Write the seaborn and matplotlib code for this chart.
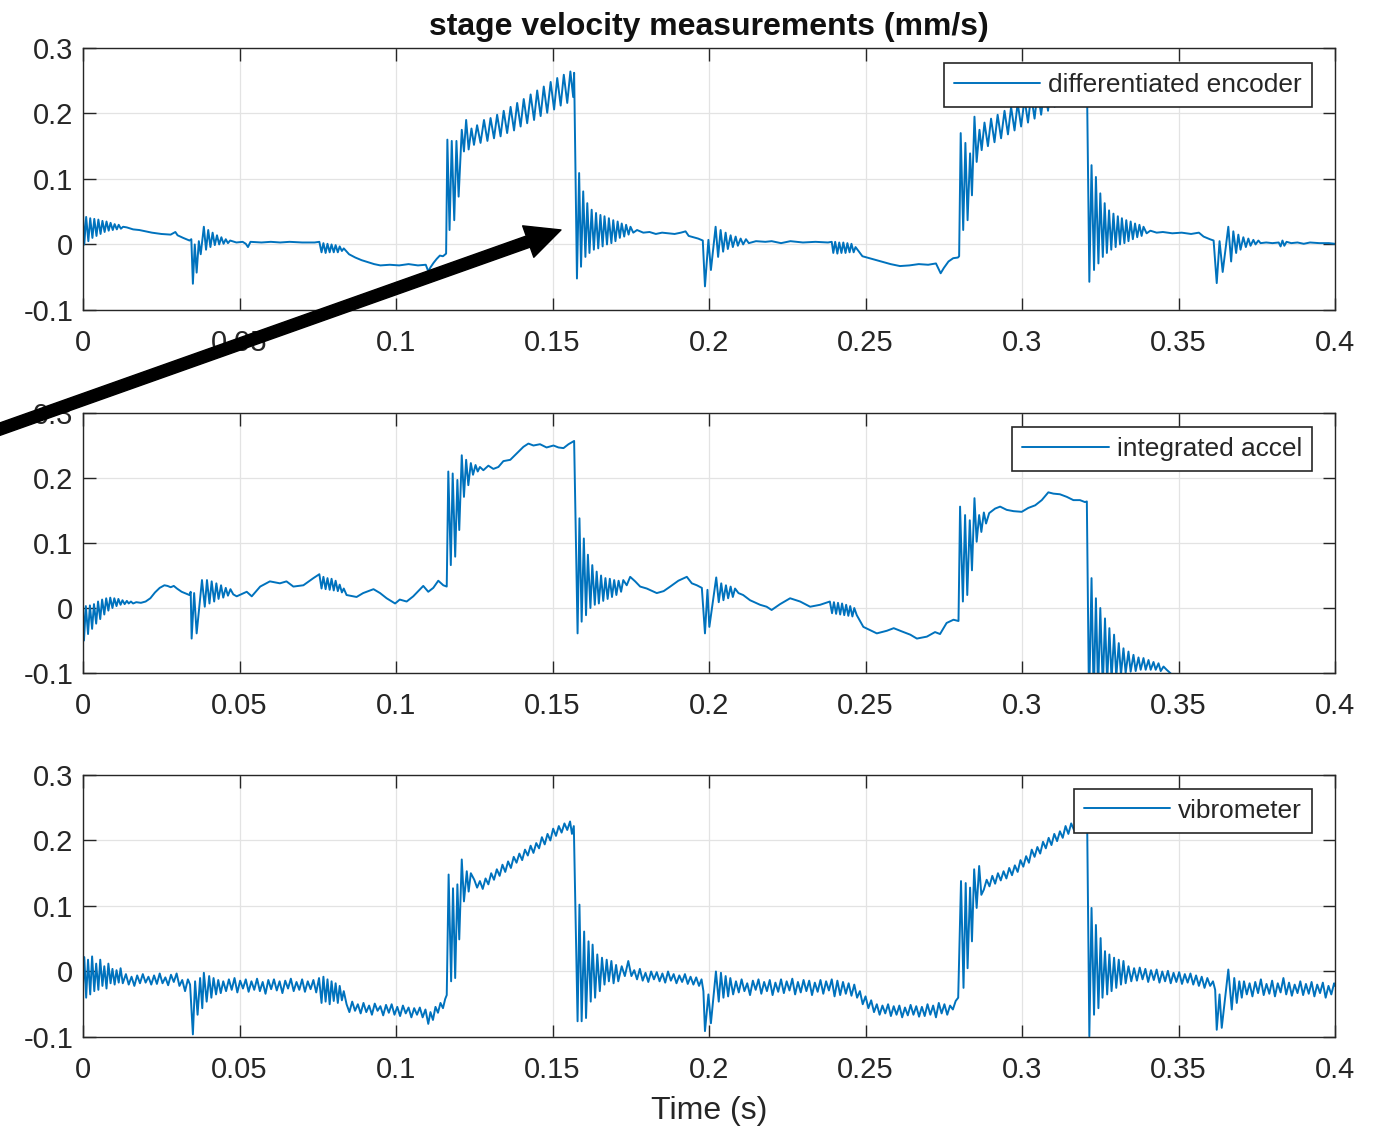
import matplotlib
matplotlib.use("Agg")
import matplotlib.pyplot as plt
import numpy as np
import seaborn as sns
from matplotlib.patches import FancyArrowPatch
from matplotlib.ticker import FormatStrFormatter

# (time s, velocity mm/s), one list per sensor
encoder_pts = [
    (0.0000, 0.045), (0.0004, 0.000), (0.0010, 0.042), (0.0017, 0.005), (0.0023, 0.040),
    (0.0030, 0.010), (0.0036, 0.039), (0.0043, 0.013), (0.0049, 0.038), (0.0056, 0.016),
    (0.0062, 0.036), (0.0069, 0.019), (0.0075, 0.035), (0.0082, 0.021), (0.0088, 0.033),
    (0.0095, 0.022), (0.0101, 0.031), (0.0108, 0.023), (0.0114, 0.030), (0.0121, 0.024),
    (0.0128, 0.027), (0.0140, 0.026), (0.0160, 0.023), (0.0180, 0.022), (0.0200, 0.020),
    (0.0220, 0.018), (0.0250, 0.016), (0.0280, 0.015), (0.0295, 0.019), (0.0302, 0.014),
    (0.0320, 0.010), (0.0340, 0.006), (0.0346, 0.008),
    (0.0351, -0.060), (0.0357, 0.000), (0.0363, -0.043), (0.0370, 0.005), (0.0376, -0.015),
    (0.0386, 0.027), (0.0393, -0.008), (0.0400, 0.022), (0.0407, -0.004), (0.0414, 0.018),
    (0.0421, -0.001), (0.0428, 0.014), (0.0435, 0.000), (0.0442, 0.011), (0.0449, 0.001),
    (0.0456, 0.008), (0.0463, 0.002), (0.0470, 0.006),
    (0.0490, 0.003), (0.0510, 0.004), (0.0520, 0.001), (0.0527, -0.004), (0.0535, 0.004),
    (0.0570, 0.003), (0.0600, 0.004), (0.0630, 0.003), (0.0660, 0.004), (0.0700, 0.003),
    (0.0740, 0.003), (0.0755, 0.004),
    (0.0762, -0.012), (0.0768, 0.002), (0.0775, -0.013), (0.0781, 0.001), (0.0788, -0.012),
    (0.0794, 0.000), (0.0801, -0.012), (0.0807, -0.001), (0.0814, -0.012), (0.0820, -0.003),
    (0.0827, -0.010), (0.0833, -0.006),
    (0.0850, -0.015), (0.0870, -0.020), (0.0890, -0.024), (0.0910, -0.027), (0.0930, -0.030),
    (0.0950, -0.032), (0.0980, -0.031), (0.1010, -0.032), (0.1040, -0.030), (0.1070, -0.032),
    (0.1095, -0.031), (0.1103, -0.041), (0.1110, -0.035), (0.1120, -0.028), (0.1130, -0.022),
    (0.1140, -0.017), (0.1150, -0.018), (0.1160, -0.014),
    (0.1164, 0.160), (0.1171, 0.022), (0.1178, 0.158), (0.1186, 0.037), (0.1193, 0.158),
    (0.1200, 0.073), (0.1210, 0.175), (0.1217, 0.142), (0.1224, 0.190), (0.1232, 0.145),
    (0.1241, 0.177), (0.1249, 0.152),
    (0.1259, 0.182), (0.1270, 0.155), (0.1281, 0.190), (0.1292, 0.158), (0.1302, 0.193),
    (0.1313, 0.162), (0.1323, 0.198), (0.1334, 0.165), (0.1344, 0.204), (0.1355, 0.170),
    (0.1366, 0.210), (0.1377, 0.174), (0.1387, 0.216), (0.1398, 0.180), (0.1408, 0.222),
    (0.1419, 0.185), (0.1430, 0.229), (0.1441, 0.190), (0.1451, 0.235), (0.1462, 0.196),
    (0.1472, 0.241), (0.1483, 0.201), (0.1494, 0.248), (0.1505, 0.206), (0.1515, 0.254),
    (0.1526, 0.212), (0.1536, 0.259), (0.1547, 0.216), (0.1557, 0.264), (0.1566, 0.225),
    (0.1569, 0.262),
    (0.1578, -0.052), (0.1585, 0.109), (0.1591, -0.034), (0.1598, 0.081), (0.1605, -0.019),
    (0.1611, 0.063), (0.1618, -0.013), (0.1625, 0.053), (0.1632, -0.008), (0.1639, 0.048),
    (0.1646, -0.006), (0.1653, 0.045), (0.1660, -0.003), (0.1666, 0.043), (0.1674, 0.000),
    (0.1680, 0.040), (0.1688, 0.002), (0.1694, 0.037), (0.1701, 0.005), (0.1708, 0.035),
    (0.1715, 0.010), (0.1721, 0.032), (0.1729, 0.012), (0.1735, 0.030), (0.1743, 0.015),
    (0.1749, 0.027), (0.1758, 0.018), (0.1770, 0.022), (0.1790, 0.018), (0.1810, 0.019),
    (0.1830, 0.016), (0.1850, 0.018), (0.1870, 0.017), (0.1890, 0.016), (0.1910, 0.018),
    (0.1925, 0.020), (0.1935, 0.013), (0.1950, 0.011), (0.1965, 0.009), (0.1980, 0.006),
    (0.1987, -0.064), (0.1998, 0.007), (0.2006, -0.039), (0.2021, 0.027), (0.2029, -0.019),
    (0.2037, 0.022), (0.2045, -0.011), (0.2053, 0.018), (0.2060, -0.007), (0.2069, 0.014),
    (0.2076, -0.004), (0.2085, 0.012), (0.2092, -0.002), (0.2101, 0.009), (0.2109, 0.000),
    (0.2118, 0.008), (0.2127, 0.002), (0.2150, 0.005), (0.2180, 0.004), (0.2200, 0.005),
    (0.2230, 0.002), (0.2260, 0.005), (0.2300, 0.003), (0.2340, 0.004), (0.2380, 0.003),
    (0.2392, 0.004),
    (0.2397, -0.013), (0.2403, 0.004), (0.2410, -0.014), (0.2416, 0.003), (0.2423, -0.013),
    (0.2429, 0.003), (0.2436, -0.013), (0.2442, 0.002), (0.2449, -0.012), (0.2455, 0.001),
    (0.2462, -0.012), (0.2468, -0.004),
    (0.2490, -0.018), (0.2520, -0.022), (0.2550, -0.026), (0.2580, -0.030), (0.2610, -0.033),
    (0.2640, -0.032), (0.2670, -0.030), (0.2700, -0.031), (0.2725, -0.029), (0.2740, -0.044),
    (0.2750, -0.036), (0.2765, -0.026), (0.2780, -0.021), (0.2795, -0.020), (0.2799, -0.018),
    (0.2804, 0.170), (0.2812, 0.022), (0.2819, 0.155), (0.2826, 0.037), (0.2834, 0.139),
    (0.2840, 0.075), (0.2848, 0.195), (0.2855, 0.126), (0.2864, 0.175), (0.2871, 0.144),
    (0.2880, 0.186), (0.2891, 0.150), (0.2901, 0.192), (0.2912, 0.156), (0.2922, 0.198),
    (0.2933, 0.162), (0.2944, 0.204), (0.2955, 0.168), (0.2965, 0.210), (0.2976, 0.174),
    (0.2986, 0.216), (0.2997, 0.180), (0.3008, 0.222), (0.3019, 0.186), (0.3029, 0.228),
    (0.3040, 0.192), (0.3050, 0.234), (0.3061, 0.198), (0.3072, 0.240), (0.3083, 0.204),
    (0.3093, 0.246), (0.3104, 0.210), (0.3114, 0.251), (0.3125, 0.215), (0.3136, 0.256),
    (0.3147, 0.219), (0.3157, 0.260), (0.3168, 0.222), (0.3179, 0.263), (0.3190, 0.225),
    (0.3200, 0.265), (0.3207, 0.262),
    (0.3215, -0.057), (0.3222, 0.121), (0.3230, -0.039), (0.3236, 0.103), (0.3244, -0.029),
    (0.3250, 0.078), (0.3258, -0.019), (0.3264, 0.063), (0.3271, -0.013), (0.3278, 0.052),
    (0.3285, -0.008), (0.3292, 0.047), (0.3299, -0.004), (0.3306, 0.043), (0.3313, 0.000),
    (0.3319, 0.040), (0.3327, 0.002), (0.3333, 0.037), (0.3340, 0.005), (0.3347, 0.035),
    (0.3354, 0.008), (0.3361, 0.032), (0.3368, 0.011), (0.3375, 0.030), (0.3382, 0.013),
    (0.3388, 0.027), (0.3398, 0.017), (0.3410, 0.021), (0.3430, 0.018), (0.3450, 0.019),
    (0.3480, 0.017), (0.3510, 0.018), (0.3540, 0.016), (0.3565, 0.018), (0.3580, 0.012),
    (0.3600, 0.008), (0.3612, 0.006),
    (0.3622, -0.059), (0.3631, 0.005), (0.3641, -0.042), (0.3659, 0.027), (0.3668, -0.026),
    (0.3675, 0.020), (0.3684, -0.013), (0.3691, 0.015), (0.3698, -0.008), (0.3707, 0.011),
    (0.3715, -0.004), (0.3723, 0.009), (0.3730, -0.002), (0.3739, 0.007), (0.3746, 0.000),
    (0.3755, 0.006), (0.3762, 0.002), (0.3780, 0.003), (0.3800, 0.002), (0.3820, 0.003),
    (0.3826, -0.003), (0.3832, 0.006), (0.3838, -0.002), (0.3845, 0.004), (0.3860, 0.002),
    (0.3880, 0.003), (0.3900, 0.001), (0.3920, 0.003), (0.3950, 0.002), (0.3980, 0.002),
    (0.4000, 0.001),
]

accel_pts = [
    (0.0000, 0.002), (0.0003, -0.050), (0.0009, 0.003), (0.0016, -0.040), (0.0022, 0.004),
    (0.0029, -0.032), (0.0035, 0.006), (0.0042, -0.024), (0.0048, 0.010), (0.0055, -0.017),
    (0.0061, 0.013), (0.0068, -0.010), (0.0074, 0.015), (0.0081, -0.004), (0.0087, 0.016),
    (0.0094, 0.000), (0.0100, 0.015), (0.0107, 0.003), (0.0113, 0.014), (0.0120, 0.005),
    (0.0126, 0.012), (0.0133, 0.006), (0.0140, 0.011), (0.0146, 0.007), (0.0153, 0.010),
    (0.0160, 0.007), (0.0170, 0.009), (0.0185, 0.008), (0.0200, 0.010),
    (0.0215, 0.015), (0.0230, 0.024), (0.0245, 0.031), (0.0260, 0.035), (0.0270, 0.034),
    (0.0280, 0.032), (0.0290, 0.034), (0.0300, 0.030), (0.0315, 0.025), (0.0330, 0.022),
    (0.0340, 0.020), (0.0344, 0.025),
    (0.0347, -0.047), (0.0355, 0.023), (0.0363, -0.039), (0.0380, 0.043), (0.0389, 0.002),
    (0.0396, 0.043), (0.0404, 0.007), (0.0411, 0.041), (0.0419, 0.010), (0.0426, 0.038),
    (0.0433, 0.014), (0.0441, 0.035), (0.0448, 0.016), (0.0456, 0.031), (0.0463, 0.019),
    (0.0471, 0.029), (0.0480, 0.021), (0.0491, 0.018), (0.0523, 0.025), (0.0539, 0.018),
    (0.0566, 0.033), (0.0597, 0.041), (0.0629, 0.038), (0.0650, 0.041), (0.0672, 0.033),
    (0.0704, 0.035), (0.0736, 0.046), (0.0755, 0.052),
    (0.0762, 0.030), (0.0768, 0.048), (0.0775, 0.029), (0.0781, 0.046), (0.0788, 0.028),
    (0.0794, 0.045), (0.0801, 0.027), (0.0807, 0.042), (0.0814, 0.026), (0.0820, 0.036),
    (0.0827, 0.024), (0.0833, 0.030),
    (0.0842, 0.020), (0.0874, 0.017), (0.0895, 0.023), (0.0928, 0.029), (0.0949, 0.023),
    (0.0970, 0.015), (0.0997, 0.007), (0.1012, 0.013), (0.1034, 0.010), (0.1055, 0.018),
    (0.1087, 0.034), (0.1103, 0.025), (0.1119, 0.031), (0.1135, 0.042), (0.1151, 0.035),
    (0.1162, 0.033),
    (0.1167, 0.210), (0.1175, 0.066), (0.1181, 0.207), (0.1189, 0.079), (0.1196, 0.197),
    (0.1202, 0.120), (0.1210, 0.235), (0.1217, 0.171), (0.1224, 0.228), (0.1231, 0.189),
    (0.1239, 0.223), (0.1246, 0.205), (0.1254, 0.220), (0.1261, 0.210), (0.1268, 0.217),
    (0.1279, 0.212), (0.1295, 0.219), (0.1311, 0.214), (0.1327, 0.217), (0.1343, 0.226),
    (0.1365, 0.228), (0.1386, 0.238), (0.1407, 0.248), (0.1423, 0.253), (0.1439, 0.250),
    (0.1460, 0.252), (0.1481, 0.247), (0.1503, 0.250), (0.1519, 0.247), (0.1535, 0.246),
    (0.1551, 0.252), (0.1569, 0.257),
    (0.1580, -0.039), (0.1586, 0.138), (0.1593, -0.021), (0.1600, 0.107), (0.1607, -0.011),
    (0.1613, 0.082), (0.1621, 0.000), (0.1627, 0.066), (0.1635, 0.005), (0.1641, 0.056),
    (0.1648, 0.007), (0.1655, 0.050), (0.1662, 0.011), (0.1669, 0.046), (0.1676, 0.014),
    (0.1683, 0.045), (0.1690, 0.017), (0.1697, 0.043), (0.1704, 0.020), (0.1711, 0.042),
    (0.1719, 0.025), (0.1726, 0.043), (0.1737, 0.035), (0.1748, 0.048), (0.1764, 0.041),
    (0.1780, 0.033), (0.1801, 0.030), (0.1833, 0.023), (0.1855, 0.026), (0.1876, 0.033),
    (0.1902, 0.042), (0.1929, 0.048), (0.1945, 0.038), (0.1961, 0.035), (0.1977, 0.031),
    (0.1987, -0.039), (0.1995, 0.028), (0.2001, -0.029), (0.2023, 0.047), (0.2031, 0.009),
    (0.2039, 0.038), (0.2046, 0.012), (0.2054, 0.035), (0.2061, 0.015), (0.2069, 0.033),
    (0.2076, 0.017), (0.2083, 0.030), (0.2094, 0.023), (0.2109, 0.020), (0.2131, 0.012),
    (0.2163, 0.005), (0.2184, 0.002), (0.2200, -0.003), (0.2227, 0.006), (0.2259, 0.015),
    (0.2291, 0.010), (0.2323, 0.002), (0.2355, 0.005), (0.2386, 0.010),
    (0.2393, -0.008), (0.2399, 0.009), (0.2406, -0.009), (0.2412, 0.008), (0.2419, -0.010),
    (0.2425, 0.007), (0.2432, -0.011), (0.2438, 0.005), (0.2445, -0.012), (0.2451, 0.003),
    (0.2458, -0.013), (0.2464, 0.000), (0.2472, -0.011),
    (0.2493, -0.029), (0.2536, -0.039), (0.2568, -0.035), (0.2590, -0.031), (0.2616, -0.036),
    (0.2643, -0.041), (0.2664, -0.047), (0.2696, -0.044), (0.2722, -0.037), (0.2738, -0.040),
    (0.2759, -0.023), (0.2781, -0.018), (0.2797, -0.020),
    (0.2802, 0.156), (0.2811, 0.010), (0.2818, 0.143), (0.2825, 0.020), (0.2833, 0.135),
    (0.2840, 0.058), (0.2848, 0.169), (0.2855, 0.102), (0.2863, 0.143), (0.2870, 0.117),
    (0.2878, 0.147), (0.2885, 0.130), (0.2895, 0.146), (0.2914, 0.153), (0.2930, 0.156),
    (0.2951, 0.151), (0.2973, 0.149), (0.2999, 0.148), (0.3020, 0.154), (0.3042, 0.158),
    (0.3063, 0.166), (0.3084, 0.178), (0.3100, 0.176), (0.3121, 0.175), (0.3143, 0.171),
    (0.3164, 0.166), (0.3185, 0.166), (0.3201, 0.163), (0.3207, 0.164),
    (0.3214, -0.150), (0.3222, 0.046), (0.3229, -0.140), (0.3236, 0.015), (0.3243, -0.130),
    (0.3250, 0.000), (0.3258, -0.122), (0.3265, -0.016), (0.3272, -0.115), (0.3279, -0.031),
    (0.3286, -0.110), (0.3294, -0.041), (0.3301, -0.106), (0.3309, -0.054), (0.3316, -0.103),
    (0.3324, -0.062), (0.3331, -0.100), (0.3340, -0.067), (0.3347, -0.098), (0.3356, -0.072),
    (0.3363, -0.097), (0.3372, -0.076), (0.3379, -0.095), (0.3388, -0.077), (0.3395, -0.095),
    (0.3404, -0.080), (0.3411, -0.095), (0.3420, -0.083), (0.3427, -0.095), (0.3436, -0.085),
    (0.3443, -0.097), (0.3452, -0.090), (0.3462, -0.095), (0.3478, -0.102), (0.3550, -0.118),
    (0.3700, -0.140), (0.4000, -0.170),
]

vibro_pts = [
    (0.0000, -0.020), (0.0004, 0.022), (0.0010, -0.040), (0.0016, 0.018), (0.0023, -0.035),
    (0.0029, 0.023), (0.0036, -0.030), (0.0042, 0.012), (0.0049, -0.028), (0.0055, 0.018),
    (0.0062, -0.022), (0.0068, 0.008), (0.0075, -0.026), (0.0081, 0.012), (0.0088, -0.018),
    (0.0094, 0.004), (0.0101, -0.020), (0.0107, 0.002), (0.0114, -0.017), (0.0120, 0.005),
    (0.0127, -0.018),
    (0.0137, -0.004), (0.0146, -0.020), (0.0155, -0.008), (0.0164, -0.022), (0.0173, -0.006),
    (0.0182, -0.018), (0.0191, -0.004), (0.0200, -0.017), (0.0209, -0.008), (0.0218, -0.020),
    (0.0227, -0.006), (0.0236, -0.019), (0.0245, -0.003), (0.0254, -0.018), (0.0263, -0.009),
    (0.0272, -0.021), (0.0281, -0.005), (0.0290, -0.016), (0.0299, -0.003), (0.0308, -0.022),
    (0.0317, -0.013), (0.0326, -0.030), (0.0335, -0.012), (0.0342, -0.020),
    (0.0351, -0.096), (0.0358, -0.015), (0.0366, -0.066), (0.0374, -0.010), (0.0381, -0.056),
    (0.0386, -0.002), (0.0395, -0.046), (0.0403, -0.007), (0.0410, -0.040), (0.0417, -0.010),
    (0.0425, -0.035), (0.0432, -0.013), (0.0440, -0.033), (0.0448, -0.015),
    (0.0457, -0.030), (0.0466, -0.012), (0.0475, -0.028), (0.0484, -0.010), (0.0493, -0.032),
    (0.0502, -0.014), (0.0511, -0.026), (0.0520, -0.012), (0.0529, -0.031), (0.0538, -0.015),
    (0.0547, -0.028), (0.0556, -0.011), (0.0565, -0.030), (0.0574, -0.016), (0.0583, -0.034),
    (0.0592, -0.013), (0.0601, -0.027), (0.0610, -0.012), (0.0619, -0.029), (0.0628, -0.015),
    (0.0637, -0.033), (0.0646, -0.014), (0.0655, -0.026), (0.0664, -0.011), (0.0673, -0.030),
    (0.0682, -0.016), (0.0691, -0.028), (0.0700, -0.012), (0.0709, -0.031), (0.0718, -0.015),
    (0.0727, -0.027), (0.0736, -0.013), (0.0745, -0.032), (0.0754, -0.010),
    (0.0762, -0.048), (0.0768, -0.008), (0.0775, -0.046), (0.0781, -0.012), (0.0788, -0.050),
    (0.0794, -0.015), (0.0801, -0.045), (0.0807, -0.018), (0.0814, -0.048), (0.0820, -0.022),
    (0.0827, -0.044), (0.0833, -0.030),
    (0.0842, -0.050), (0.0851, -0.062), (0.0860, -0.046), (0.0869, -0.060), (0.0878, -0.050),
    (0.0887, -0.064), (0.0896, -0.048), (0.0905, -0.062), (0.0914, -0.052), (0.0923, -0.066),
    (0.0932, -0.049), (0.0941, -0.060), (0.0950, -0.053), (0.0959, -0.067), (0.0968, -0.051),
    (0.0977, -0.063), (0.0986, -0.050), (0.0995, -0.066), (0.1004, -0.054), (0.1013, -0.068),
    (0.1022, -0.052), (0.1031, -0.064), (0.1040, -0.055), (0.1049, -0.070), (0.1058, -0.056),
    (0.1067, -0.066), (0.1076, -0.055), (0.1085, -0.070), (0.1094, -0.058), (0.1103, -0.080),
    (0.1110, -0.062), (0.1118, -0.074), (0.1126, -0.054), (0.1134, -0.063), (0.1142, -0.048),
    (0.1150, -0.056), (0.1157, -0.042), (0.1162, -0.036),
    (0.1168, 0.148), (0.1176, -0.015), (0.1182, 0.127), (0.1189, -0.010), (0.1196, 0.133),
    (0.1202, 0.049), (0.1210, 0.171), (0.1217, 0.107), (0.1226, 0.153), (0.1232, 0.122),
    (0.1239, 0.150),
    (0.1250, 0.140), (0.1259, 0.128), (0.1268, 0.138), (0.1277, 0.126), (0.1286, 0.142),
    (0.1295, 0.133), (0.1304, 0.150), (0.1313, 0.140), (0.1322, 0.156), (0.1331, 0.146),
    (0.1340, 0.163), (0.1349, 0.152), (0.1358, 0.168), (0.1367, 0.158), (0.1376, 0.175),
    (0.1385, 0.166), (0.1394, 0.180), (0.1403, 0.170), (0.1412, 0.186), (0.1421, 0.177),
    (0.1430, 0.192), (0.1439, 0.181), (0.1448, 0.196), (0.1457, 0.188), (0.1466, 0.205),
    (0.1475, 0.194), (0.1484, 0.210), (0.1493, 0.200), (0.1502, 0.218), (0.1511, 0.207),
    (0.1520, 0.222), (0.1529, 0.212), (0.1538, 0.226), (0.1547, 0.216), (0.1556, 0.229),
    (0.1562, 0.210), (0.1568, 0.222),
    (0.1580, -0.076), (0.1586, 0.102), (0.1593, -0.076), (0.1601, 0.061), (0.1607, -0.071),
    (0.1615, 0.046), (0.1622, -0.046), (0.1628, 0.041), (0.1636, -0.040), (0.1643, 0.026),
    (0.1651, -0.030), (0.1658, 0.021), (0.1666, -0.020), (0.1673, 0.018), (0.1680, -0.015),
    (0.1688, 0.016), (0.1695, -0.018), (0.1703, 0.010), (0.1710, -0.015), (0.1721, 0.008),
    (0.1731, -0.007), (0.1742, 0.016), (0.1752, -0.007),
    (0.1761, 0.002), (0.1770, -0.012), (0.1779, 0.004), (0.1788, -0.014), (0.1797, -0.002),
    (0.1806, -0.016), (0.1815, 0.000), (0.1824, -0.012), (0.1833, -0.001), (0.1842, -0.015),
    (0.1851, -0.003), (0.1860, -0.017), (0.1869, 0.000), (0.1878, -0.014), (0.1887, -0.004),
    (0.1896, -0.018), (0.1905, -0.006), (0.1914, -0.016), (0.1923, -0.004), (0.1932, -0.019),
    (0.1941, -0.008), (0.1950, -0.020), (0.1959, -0.009), (0.1968, -0.022), (0.1976, -0.012),
    (0.1982, -0.030),
    (0.1987, -0.091), (0.1998, -0.035), (0.2006, -0.079), (0.2022, 0.000), (0.2031, -0.046),
    (0.2038, -0.002), (0.2046, -0.040), (0.2053, -0.007), (0.2061, -0.038), (0.2068, -0.010),
    (0.2077, -0.035), (0.2086, -0.015), (0.2095, -0.032), (0.2104, -0.012), (0.2113, -0.030),
    (0.2122, -0.018), (0.2131, -0.036), (0.2140, -0.014), (0.2149, -0.028), (0.2158, -0.012),
    (0.2167, -0.034), (0.2176, -0.016), (0.2185, -0.030), (0.2194, -0.013), (0.2203, -0.036),
    (0.2212, -0.017), (0.2221, -0.031), (0.2230, -0.012), (0.2239, -0.033), (0.2248, -0.015),
    (0.2257, -0.029), (0.2266, -0.011), (0.2275, -0.035), (0.2284, -0.016), (0.2293, -0.032),
    (0.2302, -0.013), (0.2311, -0.030), (0.2320, -0.014), (0.2329, -0.036), (0.2338, -0.017),
    (0.2347, -0.031), (0.2356, -0.013), (0.2365, -0.034), (0.2374, -0.015), (0.2383, -0.029),
    (0.2392, -0.012), (0.2401, -0.038), (0.2410, -0.014), (0.2419, -0.036), (0.2428, -0.016),
    (0.2437, -0.034), (0.2446, -0.018), (0.2455, -0.037), (0.2464, -0.020),
    (0.2473, -0.040), (0.2482, -0.030), (0.2491, -0.050), (0.2500, -0.038), (0.2509, -0.056),
    (0.2518, -0.044), (0.2527, -0.062), (0.2536, -0.050), (0.2545, -0.066), (0.2554, -0.052),
    (0.2563, -0.064), (0.2572, -0.050), (0.2581, -0.068), (0.2590, -0.053), (0.2599, -0.066),
    (0.2608, -0.052), (0.2617, -0.070), (0.2626, -0.055), (0.2635, -0.067), (0.2644, -0.051),
    (0.2653, -0.066), (0.2662, -0.053), (0.2671, -0.069), (0.2680, -0.054), (0.2689, -0.068),
    (0.2698, -0.050), (0.2707, -0.066), (0.2716, -0.052), (0.2725, -0.070), (0.2734, -0.048),
    (0.2743, -0.064), (0.2752, -0.050), (0.2761, -0.066), (0.2770, -0.052), (0.2779, -0.058),
    (0.2788, -0.045), (0.2796, -0.040),
    (0.2805, 0.138), (0.2813, -0.025), (0.2820, 0.135), (0.2826, 0.005), (0.2834, 0.128),
    (0.2840, 0.046), (0.2847, 0.156), (0.2855, 0.097), (0.2863, 0.161), (0.2870, 0.117),
    (0.2878, 0.125), (0.2887, 0.140), (0.2896, 0.130), (0.2905, 0.146), (0.2914, 0.134),
    (0.2923, 0.150), (0.2932, 0.139), (0.2941, 0.153), (0.2950, 0.142), (0.2959, 0.158),
    (0.2968, 0.147), (0.2977, 0.162), (0.2986, 0.152), (0.2995, 0.170), (0.3004, 0.160),
    (0.3013, 0.176), (0.3022, 0.166), (0.3031, 0.186), (0.3040, 0.175), (0.3049, 0.190),
    (0.3058, 0.180), (0.3067, 0.198), (0.3076, 0.188), (0.3085, 0.204), (0.3094, 0.193),
    (0.3103, 0.210), (0.3112, 0.199), (0.3121, 0.214), (0.3130, 0.204), (0.3139, 0.222),
    (0.3148, 0.210), (0.3157, 0.226), (0.3166, 0.216), (0.3175, 0.230), (0.3184, 0.220),
    (0.3193, 0.232), (0.3202, 0.222), (0.3208, 0.228),
    (0.3215, -0.099), (0.3222, 0.097), (0.3230, -0.066), (0.3236, 0.071), (0.3244, -0.056),
    (0.3251, 0.051), (0.3257, -0.040), (0.3265, 0.031), (0.3272, -0.035), (0.3279, 0.026),
    (0.3286, -0.030), (0.3294, 0.021), (0.3301, -0.025), (0.3309, 0.018), (0.3316, -0.020),
    (0.3324, 0.016), (0.3331, -0.018),
    (0.3340, 0.008), (0.3349, -0.015), (0.3358, 0.005), (0.3367, -0.014), (0.3376, 0.006),
    (0.3385, -0.012), (0.3394, 0.004), (0.3403, -0.016), (0.3412, 0.002), (0.3421, -0.013),
    (0.3430, 0.003), (0.3439, -0.017), (0.3448, 0.000), (0.3457, -0.015), (0.3466, 0.001),
    (0.3475, -0.018), (0.3484, -0.002), (0.3493, -0.016), (0.3502, -0.001), (0.3511, -0.019),
    (0.3520, -0.004), (0.3529, -0.017), (0.3538, -0.003), (0.3547, -0.020), (0.3556, -0.006),
    (0.3565, -0.022), (0.3574, -0.008), (0.3583, -0.025), (0.3592, -0.010), (0.3601, -0.022),
    (0.3610, -0.015), (0.3617, -0.028),
    (0.3622, -0.089), (0.3631, -0.035), (0.3638, -0.086), (0.3659, 0.003), (0.3670, -0.058),
    (0.3678, -0.010), (0.3686, -0.048), (0.3694, -0.015), (0.3702, -0.040), (0.3709, -0.015),
    (0.3718, -0.035), (0.3727, -0.018), (0.3736, -0.038), (0.3745, -0.016), (0.3754, -0.033),
    (0.3763, -0.012), (0.3772, -0.036), (0.3781, -0.019), (0.3790, -0.034), (0.3799, -0.014),
    (0.3808, -0.038), (0.3817, -0.018), (0.3826, -0.032), (0.3835, -0.010), (0.3844, -0.035),
    (0.3853, -0.017), (0.3862, -0.037), (0.3871, -0.020), (0.3880, -0.033), (0.3889, -0.015),
    (0.3898, -0.036), (0.3907, -0.019), (0.3916, -0.034), (0.3925, -0.016), (0.3934, -0.038),
    (0.3943, -0.020), (0.3952, -0.033), (0.3961, -0.017), (0.3970, -0.040), (0.3979, -0.022),
    (0.3988, -0.035), (0.3997, -0.018), (0.4000, -0.022),
]

series_labels = ["differentiated encoder", "integrated accel", "vibrometer"]
x_ticks = [0, 0.05, 0.1, 0.15, 0.2, 0.25, 0.3, 0.35, 0.4]
y_ticks = [-0.1, 0, 0.1, 0.2, 0.3]

LINE_BLUE = "#0072BD"
AX_GRAY = "#262626"

sns.set_theme(style="ticks")
plt.rcParams["font.family"] = ["Liberation Sans", "DejaVu Sans"]

fig = plt.figure(figsize=(13.93, 11.3), dpi=100)

# axes boxes in figure fractions, legend upper-right anchors in axes fractions
boxes = [
    [0.0596, 0.7257, 0.8988, 0.2319],
    [0.0596, 0.4044, 0.8988, 0.2301],
    [0.0596, 0.0823, 0.8988, 0.2319],
]
legend_anchor = [(0.9814, 0.9416), (0.9814, 0.9473), (0.9814, 0.9477)]

axes = []
for pts, label, box, anchor in zip(
    [encoder_pts, accel_pts, vibro_pts], series_labels, boxes, legend_anchor
):
    ax = fig.add_axes(box)
    arr = np.array(pts)
    sns.lineplot(
        x=arr[:, 0], y=arr[:, 1], ax=ax, estimator=None, sort=False,
        color=LINE_BLUE, linewidth=1.4, label=label,
    )
    ax.set_xlim(0, 0.4)
    ax.set_ylim(-0.1, 0.3)
    ax.set_xticks(x_ticks)
    ax.set_yticks(y_ticks)
    ax.xaxis.set_major_formatter(FormatStrFormatter("%g"))
    ax.yaxis.set_major_formatter(FormatStrFormatter("%g"))
    ax.grid(True, color="#e3e3e3", linewidth=0.9)
    ax.set_axisbelow(True)
    for side in ["top", "right", "bottom", "left"]:
        ax.spines[side].set_visible(True)
        ax.spines[side].set_color(AX_GRAY)
        ax.spines[side].set_linewidth(1.0)
    ax.tick_params(axis="both", direction="in", length=9, width=1.0, color=AX_GRAY,
                   labelsize=21, labelcolor=AX_GRAY, top=True, right=True)
    ax.tick_params(axis="x", pad=13.5)
    ax.tick_params(axis="y", pad=7)
    ax.set_xlabel("")
    ax.set_ylabel("")
    leg = ax.legend(
        loc="upper right", bbox_to_anchor=anchor, borderaxespad=0, fontsize=18.9,
        handlelength=3.3, handletextpad=0.3, borderpad=0.38, fancybox=False,
        edgecolor=AX_GRAY, framealpha=1,
    )
    leg.get_frame().set_linewidth(1.2)
    axes.append(ax)

axes[0].set_title("stage velocity measurements (mm/s)", fontsize=23,
                  fontweight="bold", pad=9, color="#111111")
axes[2].set_xlabel("Time (s)", fontsize=23, color=AX_GRAY, labelpad=9)

# annotation arrow pointing at the first ringdown
arrow = FancyArrowPatch(
    (-0.004, 0.6185), (0.4027, 0.7965), transform=fig.transFigure,
    arrowstyle="simple,head_length=25,head_width=24,tail_width=8.5",
    mutation_scale=1, color="black", shrinkA=0, shrinkB=0, zorder=10,
)
fig.add_artist(arrow)

fig.savefig("out.png", dpi=100)
